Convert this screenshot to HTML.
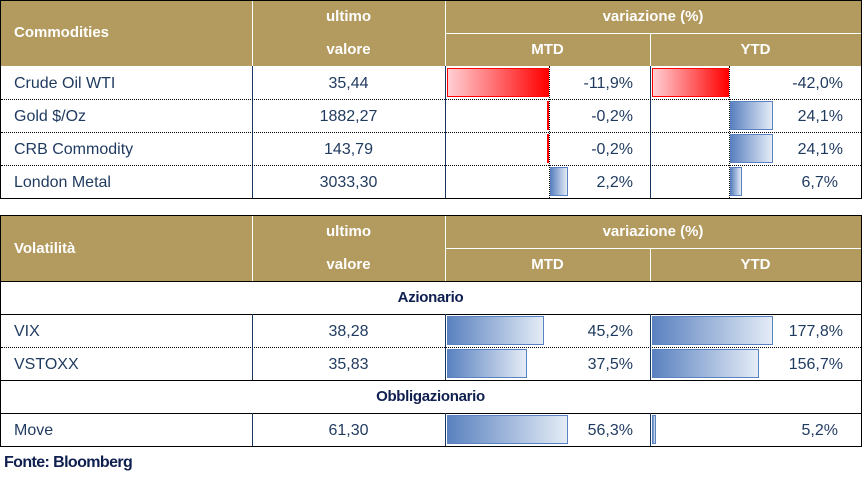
<!DOCTYPE html>
<html><head><meta charset="utf-8"><style>
*{margin:0;padding:0;box-sizing:border-box}
body{width:863px;height:481px;background:#fff;position:relative;overflow:hidden;font-family:"Liberation Sans",sans-serif;color:#1f3a5f}
div{position:absolute}
.h{background:#b39a5e}
.ht{color:#fff;font-weight:bold;font-size:15px;text-align:center;line-height:34px}
.t{font-size:16px;line-height:35px;white-space:nowrap}
.l{left:14px}
.c{left:252px;width:193px;text-align:center}
.m{right:230px;text-align:right}
.y{right:20px;text-align:right}
.red{background:linear-gradient(to right,#ffd0d4,#ff0000);border:1px solid #ff0000}
.blue{background:linear-gradient(to right,#5b82c0,#e4ecf6);border:1px solid #5b82c0}
.dot{height:0;border-top:1px dotted #000}
.sol{height:0;border-top:1px solid #000}
.vl{width:0;border-left:1px solid #17375e}
.vw{width:0;border-left:1px solid #fff}
.hw{height:0;border-top:1px solid #fff}
.vd{width:0;border-left:1px dotted #000}
.sec{font-weight:bold;font-size:15px;color:#0f1f4f;line-height:34px;left:0;width:861px;text-align:center;letter-spacing:-0.3px}
</style></head><body>
<!-- table 1 -->
<div style="left:0;top:0;width:862px;height:199px;border:1px solid #000"></div>
<div class="h" style="left:1px;top:1px;width:860px;height:65px"></div>
<div class="vw" style="left:252px;top:1px;height:65px"></div>
<div class="vw" style="left:445px;top:1px;height:65px"></div>
<div class="vw" style="left:650px;top:33px;height:33px"></div>
<div class="hw" style="left:445px;top:33px;width:416px"></div>
<div class="ht" style="left:14px;top:16px;text-align:left">Commodities</div>
<div class="ht" style="left:252px;top:0;width:193px">ultimo</div>
<div class="ht" style="left:252px;top:33px;width:193px">valore</div>
<div class="ht" style="left:445px;top:0;width:416px">variazione (%)</div>
<div class="ht" style="left:445px;top:33px;width:205px">MTD</div>
<div class="ht" style="left:650px;top:33px;width:211px">YTD</div>
<div class="vl" style="left:252px;top:66px;height:132px"></div>
<div class="vl" style="left:445px;top:66px;height:132px"></div>
<div class="vl" style="left:650px;top:66px;height:132px"></div>
<div class="vd" style="left:549px;top:66px;height:132px"></div>
<div class="vd" style="left:729px;top:66px;height:132px"></div>
<div class="dot" style="left:1px;top:99px;width:860px"></div>
<div class="dot" style="left:1px;top:132px;width:860px"></div>
<div class="dot" style="left:1px;top:165px;width:860px"></div>
<div class="red" style="left:447px;top:68px;width:102px;height:29px"></div>
<div class="red" style="left:652px;top:68px;width:77px;height:29px"></div>
<div class="red" style="left:547px;top:101px;width:2px;height:29px"></div>
<div class="red" style="left:547px;top:134px;width:2px;height:29px"></div>
<div class="blue" style="left:730px;top:101px;width:43px;height:29px"></div>
<div class="blue" style="left:730px;top:134px;width:43px;height:29px"></div>
<div class="blue" style="left:550px;top:167px;width:18px;height:29px"></div>
<div class="blue" style="left:730px;top:167px;width:12px;height:29px"></div>
<div class="t l" style="top:66px">Crude Oil WTI</div><div class="t c" style="top:66px">35,44</div><div class="t m" style="top:66px">-11,9%</div><div class="t y" style="top:66px">-42,0%</div>
<div class="t l" style="top:99px">Gold $/Oz</div><div class="t c" style="top:99px">1882,27</div><div class="t m" style="top:99px">-0,2%</div><div class="t y" style="top:99px">24,1%</div>
<div class="t l" style="top:132px">CRB Commodity</div><div class="t c" style="top:132px">143,79</div><div class="t m" style="top:132px">-0,2%</div><div class="t y" style="top:132px">24,1%</div>
<div class="t l" style="top:165px">London Metal</div><div class="t c" style="top:165px">3033,30</div><div class="t m" style="top:165px">2,2%</div><div class="t y" style="top:165px;right:25px">6,7%</div>
<!-- table 2 -->
<div style="left:0;top:215px;width:862px;height:232px;border:1px solid #000"></div>
<div class="h" style="left:1px;top:216px;width:860px;height:65px"></div>
<div class="vw" style="left:252px;top:216px;height:65px"></div>
<div class="vw" style="left:445px;top:216px;height:65px"></div>
<div class="vw" style="left:650px;top:248px;height:33px"></div>
<div class="hw" style="left:445px;top:248px;width:416px"></div>
<div class="ht" style="left:14px;top:232px;text-align:left">Volatilità</div>
<div class="ht" style="left:252px;top:215px;width:193px">ultimo</div>
<div class="ht" style="left:252px;top:248px;width:193px">valore</div>
<div class="ht" style="left:445px;top:215px;width:416px">variazione (%)</div>
<div class="ht" style="left:445px;top:248px;width:205px">MTD</div>
<div class="ht" style="left:650px;top:248px;width:211px">YTD</div>
<div class="sol" style="left:1px;top:281px;width:860px"></div>
<div class="sec" style="top:281px">Azionario</div>
<div class="sol" style="left:1px;top:314px;width:860px"></div>
<div class="dot" style="left:1px;top:347px;width:860px"></div>
<div class="sol" style="left:1px;top:380px;width:860px"></div>
<div class="sec" style="top:380px">Obbligazionario</div>
<div class="sol" style="left:1px;top:413px;width:860px"></div>
<div class="vl" style="left:252px;top:314px;height:66px"></div>
<div class="vl" style="left:445px;top:314px;height:66px"></div>
<div class="vl" style="left:650px;top:314px;height:66px"></div>
<div class="vl" style="left:252px;top:413px;height:33px"></div>
<div class="vl" style="left:445px;top:413px;height:33px"></div>
<div class="vl" style="left:650px;top:413px;height:33px"></div>
<div class="blue" style="left:447px;top:316px;width:97px;height:29px"></div>
<div class="blue" style="left:652px;top:316px;width:121px;height:29px"></div>
<div class="blue" style="left:447px;top:349px;width:80px;height:29px"></div>
<div class="blue" style="left:652px;top:349px;width:107px;height:29px"></div>
<div class="blue" style="left:447px;top:415px;width:121px;height:29px"></div>
<div class="blue" style="left:652px;top:415px;width:4px;height:29px"></div>
<div class="t l" style="top:314px">VIX</div><div class="t c" style="top:314px">38,28</div><div class="t m" style="top:314px">45,2%</div><div class="t y" style="top:314px">177,8%</div>
<div class="t l" style="top:347px">VSTOXX</div><div class="t c" style="top:347px">35,83</div><div class="t m" style="top:347px">37,5%</div><div class="t y" style="top:347px">156,7%</div>
<div class="t l" style="top:413px">Move</div><div class="t c" style="top:413px">61,30</div><div class="t m" style="top:413px">56,3%</div><div class="t y" style="top:413px;right:25px">5,2%</div>
<div style="left:4px;top:454px;font-size:16px;font-weight:bold;color:#0f1f4f;letter-spacing:-0.6px">Fonte: Bloomberg</div>
</body></html>
